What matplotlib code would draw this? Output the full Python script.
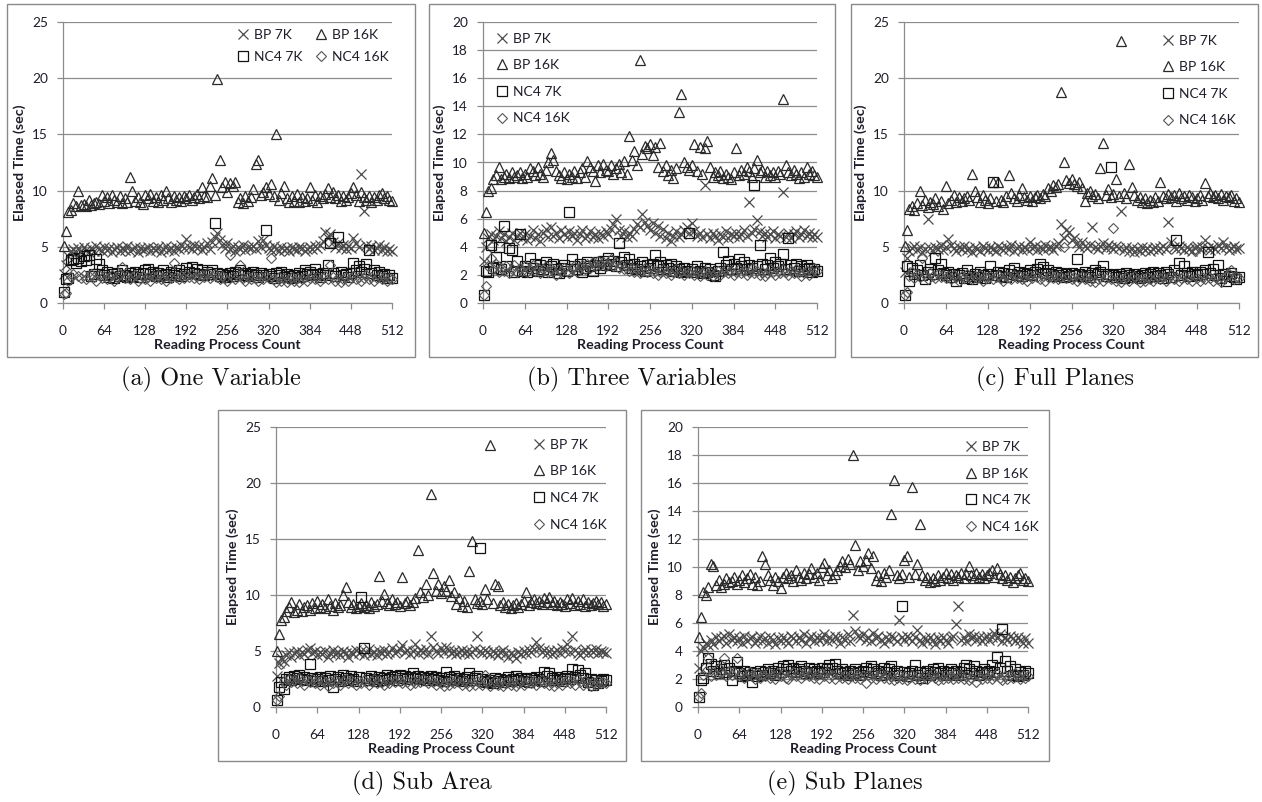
import matplotlib
matplotlib.use('Agg')
import matplotlib.pyplot as plt
from matplotlib.patches import Rectangle

# ---------------- data ----------------
proc_counts = [1, 4, 8, 12, 16, 20, 24, 28, 32, 36, 40, 44, 48, 52, 56, 60,
               64, 68, 72, 76, 80, 84, 88, 92, 96, 100, 104, 108, 112, 116, 120, 124,
               128, 132, 136, 140, 144, 148, 152, 156, 160, 164, 168, 172, 176, 180, 184, 188,
               192, 196, 200, 204, 208, 212, 216, 220, 224, 228, 232, 236, 240, 244, 248, 252,
               256, 260, 264, 268, 272, 276, 280, 284, 288, 292, 296, 300, 304, 308, 312, 316,
               320, 324, 328, 332, 336, 340, 344, 348, 352, 356, 360, 364, 368, 372, 376, 380,
               384, 388, 392, 396, 400, 404, 408, 412, 416, 420, 424, 428, 432, 436, 440, 444,
               448, 452, 456, 460, 464, 468, 472, 476, 480, 484, 488, 492, 496, 500, 504, 508,
               512]

series_labels = ["BP 7K", "BP 16K", "NC4 7K", "NC4 16K"]
x_ticks = [0, 64, 128, 192, 256, 320, 384, 448, 512]

# (a) One Variable
a_bp7k = [2.6, 3.4, 4.2, 4.6, 4.8, 4.5, 4.9, 4.6, 5.0, 4.7, 4.5, 4.9, 4.6, 5.1, 4.8, 4.6,
          5.0, 4.7, 4.9, 4.5, 4.8, 5.0, 4.6, 4.9, 4.7, 5.1, 4.6, 4.8, 5.0, 4.5, 4.9, 4.7,
          4.8, 5.0, 4.6, 4.9, 4.7, 5.0, 4.5, 4.8, 5.1, 4.7, 4.9, 4.6, 5.0, 4.8, 5.2, 4.9,
          5.7, 5.0, 4.8, 5.2, 4.9, 5.1, 4.7, 5.0, 5.3, 4.8, 5.4, 5.9, 6.2, 5.6, 5.2, 4.9,
          5.3, 4.8, 5.1, 4.6, 5.0, 4.8, 5.2, 4.7, 5.0, 4.9, 5.1, 4.8, 5.5, 5.0, 5.6, 5.2,
          4.9, 4.7, 5.1, 4.8, 4.6, 5.0, 4.7, 4.9, 4.6, 5.0, 4.8, 4.7, 5.0, 4.9, 4.6, 4.8,
          5.0, 4.8, 5.1, 4.9, 5.2, 5.5, 6.3, 5.8, 6.1, 5.4, 5.0, 5.3, 4.9, 5.2, 4.8, 5.1,
          4.9, 5.8, 5.3, 5.0, 11.5, 8.2, 5.2, 4.8, 5.1, 4.7, 4.9, 5.2, 4.7, 5.0, 4.6, 4.8,
          4.6]
a_bp16k = [5.1, 6.4, 8.1, 8.3, 8.9, 8.6, 10.0, 8.7, 8.8, 8.6, 9.2, 8.7, 8.9, 9.0, 8.8, 9.6,
           9.1, 9.4, 8.9, 9.6, 9.2, 9.0, 9.5, 8.9, 9.3, 9.0, 11.2, 10.0, 9.1, 9.4, 9.0, 8.8,
           9.6, 9.3, 9.7, 9.1, 9.4, 9.0, 9.6, 9.2, 10.0, 9.3, 9.0, 9.5, 9.2, 9.4, 9.1, 9.5,
           9.3, 9.6, 9.2, 9.4, 9.7, 9.3, 10.3, 9.5, 9.4, 10.4, 11.1, 9.6, 19.9, 12.7, 10.3, 10.8,
           9.9, 10.7, 10.4, 10.8, 9.0, 9.3, 8.9, 9.5, 9.1, 9.4, 10.1, 12.4, 12.7, 9.6, 9.9, 10.3,
           9.7, 10.6, 9.5, 15.0, 9.2, 9.8, 10.4, 9.3, 9.0, 9.5, 9.1, 9.7, 9.0, 9.4, 9.1, 9.3,
           10.3, 9.2, 9.6, 9.0, 9.5, 9.3, 9.7, 10.2, 9.4, 9.9, 9.3, 9.6, 9.1, 9.5, 9.2, 9.4,
           9.8, 10.3, 9.6, 9.1, 9.9, 9.4, 9.2, 9.5, 9.0, 9.4, 9.2, 9.6, 9.8, 9.3, 9.5, 9.2,
           9.1]
a_nc7k = [1.0, 2.1, 2.2, 3.8, 3.9, 3.6, 4.0, 3.7, 4.2, 3.8, 4.3, 2.4, 2.6, 3.9, 3.5, 2.9,
          2.5, 2.8, 2.3, 2.6, 2.2, 2.7, 2.4, 2.9, 2.5, 2.3, 2.7, 2.4, 2.8, 2.6, 2.3, 2.7,
          2.9, 3.0, 2.6, 2.8, 2.4, 2.7, 2.5, 2.9, 2.6, 2.3, 2.8, 2.5, 2.7, 2.9, 2.4, 2.6,
          3.1, 2.8, 3.2, 2.7, 3.0, 2.6, 2.9, 2.5, 2.8, 2.6, 2.9, 7.1, 2.7, 2.4, 2.6, 2.3,
          2.5, 2.7, 2.4, 2.8, 2.6, 2.9, 2.5, 2.7, 2.4, 2.6, 2.8, 2.5, 2.3, 2.7, 2.5, 6.5,
          2.6, 2.4, 2.2, 2.7, 2.5, 2.8, 2.3, 2.6, 2.4, 2.2, 2.5, 2.3, 2.7, 2.4, 2.9, 2.6,
          2.8, 2.5, 3.0, 2.6, 2.3, 2.7, 2.5, 3.4, 5.3, 2.7, 2.4, 5.9, 2.8, 2.5, 2.6, 2.3,
          2.7, 3.6, 2.9, 3.3, 2.8, 3.0, 3.5, 4.7, 2.7, 2.9, 2.5, 2.8, 2.4, 2.6, 2.2, 2.5,
          2.2]
a_nc16k = [0.8, 0.9, 2.0, 2.3, 2.6, 4.5, 2.4, 2.2, 2.5, 2.1, 2.4, 2.6, 2.3, 2.0, 2.5, 2.2,
           2.4, 2.1, 2.3, 2.5, 2.0, 2.3, 2.6, 3.2, 2.2, 2.4, 2.1, 2.3, 2.5, 2.0, 2.2, 2.4,
           2.1, 2.3, 2.0, 2.4, 2.2, 2.5, 2.1, 2.3, 2.0, 2.4, 2.2, 3.6, 2.3, 2.1, 2.4, 2.2,
           2.5, 2.3, 2.6, 2.2, 2.4, 2.1, 2.5, 2.3, 2.7, 2.2, 2.4, 2.6, 2.3, 2.1, 2.4, 2.2,
           2.0, 4.3, 2.3, 2.1, 2.4, 3.4, 2.2, 2.0, 2.3, 2.1, 2.4, 2.2, 2.0, 2.3, 2.1, 2.4,
           2.2, 4.0, 2.1, 1.9, 2.3, 2.0, 2.2, 1.9, 2.1, 2.3, 2.0, 2.2, 1.9, 2.1, 2.3, 2.0,
           2.2, 2.4, 2.1, 2.3, 2.0, 2.2, 2.4, 2.1, 3.4, 2.3, 2.0, 2.2, 1.9, 2.1, 2.3, 2.0,
           2.2, 2.4, 2.1, 2.3, 2.0, 2.2, 2.5, 2.1, 2.3, 2.0, 2.2, 2.4, 2.1, 2.3, 2.0, 2.2,
           2.1]

# (b) Three Variables
b_bp7k = [3.0, 4.0, 4.6, 4.9, 4.5, 4.8, 5.1, 4.6, 4.9, 4.4, 4.7, 5.0, 4.5, 4.8, 5.0, 4.6,
          4.9, 4.5, 4.8, 5.2, 4.6, 4.9, 4.4, 5.0, 5.3, 4.7, 5.4, 4.8, 5.0, 4.6, 5.2, 4.9,
          4.7, 5.1, 4.8, 5.0, 4.5, 4.9, 5.2, 4.6, 4.8, 5.1, 4.7, 4.9, 4.6, 5.0, 4.8, 5.1,
          4.9, 5.3, 5.6, 6.0, 5.2, 4.8, 5.1, 4.7, 5.0, 4.8, 5.3, 5.6, 5.4, 6.3, 5.8, 5.5,
          5.2, 5.7, 5.0, 5.5, 4.8, 5.3, 4.6, 5.0, 4.4, 4.8, 5.1, 4.7, 4.9, 5.2, 5.4, 5.0,
          5.7, 5.1, 4.8, 5.0, 4.7, 8.4, 4.9, 4.6, 5.0, 4.8, 4.5, 4.9, 4.7, 5.1, 4.6, 4.9,
          4.8, 5.0, 4.7, 4.9, 5.2, 4.8, 7.2, 5.0, 5.3, 5.9, 5.1, 4.8, 5.0, 4.7, 4.9, 5.1,
          4.6, 4.9, 4.8, 7.9, 4.7, 5.0, 4.6, 4.9, 5.1, 4.7, 4.9, 5.2, 4.8, 5.0, 4.7, 4.9,
          4.7]
b_bp16k = [5.0, 6.5, 8.0, 8.2, 8.8, 9.1, 9.7, 8.8, 9.0, 9.2, 8.9, 9.3, 9.0, 9.1, 9.3, 8.9,
           9.2, 9.0, 9.6, 9.4, 9.1, 9.7, 9.2, 9.0, 9.5, 10.0, 10.7, 10.2, 9.4, 9.1, 8.9, 9.3,
           8.8, 9.2, 9.0, 9.4, 8.9, 9.3, 9.6, 9.0, 10.1, 9.7, 9.4, 8.7, 9.8, 9.3, 9.9, 9.5,
           9.4, 9.8, 9.2, 9.6, 9.9, 9.3, 10.1, 9.2, 11.9, 10.2, 10.8, 9.8, 17.3, 10.6, 11.2, 11.0,
           11.3, 10.5, 11.1, 9.7, 11.4, 9.4, 9.8, 9.1, 9.5, 8.9, 9.6, 13.6, 14.9, 10.0, 9.7, 9.5,
           9.8, 11.3, 9.4, 11.1, 9.2, 11.0, 11.5, 9.7, 9.0, 9.3, 9.1, 9.4, 8.9, 9.2, 9.0, 8.8,
           9.3, 11.0, 9.1, 9.5, 9.2, 9.7, 9.4, 9.0, 9.6, 10.2, 9.3, 9.5, 9.0, 9.4, 9.1, 9.3,
           9.0, 9.4, 9.2, 14.5, 9.8, 9.3, 9.1, 9.5, 9.2, 8.9, 9.3, 9.0, 9.7, 9.2, 9.4, 9.1,
           9.0]
b_nc7k = [0.6, 2.3, 2.2, 4.1, 2.5, 3.3, 4.0, 2.4, 5.5, 2.6, 3.9, 3.8, 2.2, 3.0, 4.9, 2.3,
          2.6, 2.2, 3.2, 2.5, 2.8, 2.3, 2.7, 2.4, 2.9, 2.2, 2.6, 2.8, 2.4, 2.1, 2.5, 2.7,
          2.3, 6.5, 3.1, 2.6, 2.4, 2.8, 2.2, 2.5, 2.9, 2.6, 2.3, 2.7, 2.9, 2.5, 3.0, 2.7,
          3.2, 2.8, 3.0, 2.6, 4.3, 2.9, 3.3, 2.7, 3.1, 2.5, 2.8, 2.4, 2.6, 2.9, 2.3, 2.7,
          2.5, 2.8, 3.4, 2.6, 2.9, 2.4, 2.7, 2.5, 2.8, 2.3, 2.6, 2.4, 2.2, 2.5, 2.3, 5.0,
          2.4, 2.2, 2.6, 2.3, 2.1, 2.5, 2.2, 2.4, 2.0, 1.9, 2.3, 2.5, 3.6, 2.7, 3.0, 2.4,
          2.8, 2.5, 3.1, 2.6, 2.9, 2.4, 2.7, 2.5, 8.4, 2.6, 4.1, 2.8, 2.4, 2.7, 3.2, 2.5,
          2.9, 2.6, 2.8, 3.5, 2.4, 4.6, 2.7, 2.5, 2.8, 2.3, 2.6, 2.4, 2.7, 2.5, 2.2, 2.4,
          2.3]
b_nc16k = [0.6, 1.2, 2.6, 3.2, 2.4, 2.8, 2.2, 2.5, 2.3, 2.6, 2.1, 2.4, 2.7, 2.2, 2.5, 2.3,
           2.6, 2.2, 2.4, 2.7, 2.3, 2.5, 2.1, 2.4, 2.6, 2.2, 2.5, 2.3, 2.0, 2.4, 2.2, 2.5,
           2.3, 2.1, 2.4, 2.6, 2.2, 2.5, 2.7, 2.4, 2.8, 2.5, 2.9, 2.6, 3.0, 2.7, 2.9, 2.6,
           2.8, 3.1, 2.6, 2.9, 2.5, 2.7, 2.4, 2.6, 2.3, 2.5, 2.2, 2.4, 2.1, 2.3, 2.5, 2.2,
           2.4, 2.1, 2.3, 2.0, 2.2, 2.4, 2.1, 2.3, 2.0, 2.2, 2.4, 2.1, 2.3, 2.0, 2.2, 2.1,
           2.3, 2.0, 2.2, 1.9, 2.1, 2.3, 2.0, 2.2, 1.9, 2.1, 2.3, 2.0, 2.2, 2.4, 2.1, 2.3,
           2.0, 2.2, 2.4, 2.1, 2.3, 2.0, 2.2, 2.5, 2.1, 2.3, 2.0, 2.2, 1.9, 2.1, 2.4, 2.2,
           2.0, 2.3, 2.1, 2.4, 2.2, 2.0, 2.3, 2.1, 2.4, 2.2, 1.9, 2.1, 2.3, 2.0, 2.2, 2.5,
           2.3]

# (c) Full Planes
c_bp7k = [2.8, 4.0, 4.6, 4.9, 5.1, 4.7, 5.0, 4.5, 4.8, 7.5, 4.9, 4.6, 5.0, 4.8, 5.2, 4.7,
          5.0, 5.7, 5.2, 4.9, 4.6, 5.0, 4.8, 5.1, 4.7, 4.9, 4.5, 5.0, 4.8, 4.6, 5.1, 4.9,
          4.7, 5.0, 4.8, 4.6, 5.1, 4.9, 4.7, 5.0, 4.8, 5.2, 4.6, 4.9, 5.1, 4.7, 5.0, 4.8,
          5.4, 4.9, 5.1, 4.7, 5.0, 4.8, 5.2, 4.9, 5.0, 4.7, 5.1, 5.3, 7.0, 5.8, 6.5, 6.3,
          5.6, 5.8, 5.3, 5.0, 5.4, 5.1, 4.9, 5.2, 6.8, 5.0, 4.8, 5.1, 5.3, 4.9, 5.2, 5.0,
          4.8, 5.1, 4.9, 8.2, 4.7, 5.0, 4.6, 4.9, 4.5, 4.8, 4.6, 5.0, 4.7, 4.9, 4.6, 4.8,
          5.0, 4.7, 4.9, 5.1, 4.8, 7.2, 5.4, 5.0, 4.8, 5.1, 4.9, 4.7, 5.0, 4.8, 4.6, 4.9,
          5.1, 4.8, 5.0, 5.6, 4.9, 4.7, 5.0, 4.8, 5.2, 4.9, 5.4, 5.0, 4.7, 4.9, 5.1, 4.8,
          4.9]
c_bp16k = [5.1, 6.5, 8.4, 8.6, 8.3, 8.9, 10.0, 8.7, 9.2, 8.5, 9.0, 8.8, 9.3, 8.6, 9.1, 8.4,
           10.4, 8.9, 9.2, 9.6, 9.0, 9.4, 9.1, 9.3, 9.5, 9.2, 11.5, 10.0, 9.4, 9.0, 9.6, 9.2,
           8.9, 9.3, 10.8, 9.1, 10.8, 9.2, 9.0, 9.5, 11.4, 9.8, 9.3, 9.1, 9.6, 10.2, 9.4, 9.2,
           9.5, 9.1, 9.4, 9.6, 9.3, 9.7, 9.5, 10.2, 10.0, 10.5, 10.3, 10.6, 18.8, 12.5, 10.9, 10.7,
           11.0, 10.6, 10.4, 10.8, 10.2, 9.1, 9.8, 10.0, 9.5, 9.7, 9.3, 12.0, 14.2, 9.6, 10.1, 9.4,
           9.7, 11.0, 9.5, 23.3, 9.8, 9.3, 12.4, 10.3, 9.6, 9.2, 9.4, 9.0, 9.3, 8.9, 9.2, 9.0,
           9.4, 9.1, 10.8, 9.5, 9.3, 9.7, 9.4, 9.6, 9.1, 9.8, 9.3, 9.5, 9.2, 9.6, 9.4, 9.1,
           9.3, 9.6, 9.2, 10.7, 9.5, 9.8, 9.4, 9.6, 9.3, 9.7, 9.2, 9.5, 9.4, 9.6, 9.1, 9.3,
           9.0]
c_nc7k = [0.7, 3.3, 2.0, 3.1, 2.6, 2.9, 3.4, 2.5, 2.1, 2.8, 3.0, 2.6, 4.0, 2.9, 3.5, 2.7,
          2.5, 2.8, 2.3, 2.6, 2.0, 2.5, 2.7, 2.2, 2.9, 2.4, 2.1, 2.6, 2.3, 2.8, 2.5, 2.2,
          2.6, 3.3, 10.8, 2.5, 2.8, 2.4, 2.7, 2.3, 2.9, 2.6, 3.1, 2.5, 2.8, 2.4, 2.7, 2.6,
          2.9, 2.5, 2.8, 3.0, 3.5, 3.2, 2.7, 2.9, 2.6, 2.4, 2.8, 2.5, 2.7, 2.3, 2.6, 2.4,
          2.7, 2.5, 3.9, 2.6, 2.4, 2.8, 2.5, 2.3, 2.7, 2.9, 2.6, 2.8, 3.3, 2.4, 2.6, 12.1,
          2.5, 2.3, 2.6, 2.4, 2.2, 2.7, 2.5, 2.3, 2.6, 2.4, 2.2, 2.5, 2.7, 2.3, 2.6, 2.8,
          2.4, 2.7, 2.5, 2.2, 2.8, 2.6, 2.3, 2.9, 5.6, 3.6, 2.5, 3.3, 2.7, 2.4, 2.8, 2.6,
          2.5, 2.8, 2.6, 2.9, 4.5, 2.7, 3.0, 2.5, 3.4, 2.2, 2.6, 2.0, 2.4, 2.7, 2.3, 2.1,
          2.3]
c_nc16k = [0.7, 1.0, 2.4, 2.8, 2.2, 2.6, 2.3, 4.0, 2.5, 2.1, 2.7, 2.4, 2.2, 2.6, 2.3, 2.5,
           2.2, 2.4, 2.1, 2.5, 2.3, 2.0, 2.4, 2.2, 2.6, 2.3, 2.1, 2.4, 2.2, 2.5, 2.0, 2.3,
           2.2, 2.4, 2.1, 2.3, 2.5, 2.2, 2.0, 2.4, 2.3, 2.1, 2.5, 2.2, 2.4, 2.1, 2.3, 2.0,
           2.4, 2.2, 2.5, 2.3, 2.1, 2.4, 2.0, 2.3, 2.5, 2.2, 2.4, 2.1, 2.3, 5.0, 2.2, 2.4,
           2.1, 2.3, 2.0, 2.2, 2.4, 2.1, 2.3, 2.0, 2.2, 1.9, 2.1, 2.3, 2.0, 2.2, 2.4, 2.1,
           6.7, 2.0, 2.2, 1.9, 2.1, 2.3, 2.0, 2.2, 2.4, 2.1, 1.9, 2.2, 2.0, 2.3, 2.1, 2.0,
           2.2, 2.4, 2.1, 2.3, 2.0, 2.2, 2.5, 2.1, 2.3, 2.0, 2.2, 2.4, 2.1, 2.3, 2.0, 4.6,
           2.2, 2.0, 2.3, 2.1, 2.4, 2.2, 2.0, 2.3, 2.1, 1.9, 2.2, 2.4, 2.6, 2.9, 2.1, 2.3,
           2.2]

# (d) Sub Area
d_bp7k = [2.8, 3.9, 4.4, 4.1, 4.6, 4.9, 4.5, 4.8, 5.0, 4.6, 4.9, 4.7, 5.1, 5.3, 4.8, 5.0,
          4.6, 4.9, 4.7, 5.0, 4.5, 4.8, 5.1, 4.7, 4.9, 4.6, 5.0, 4.8, 4.5, 4.9, 4.7, 5.1,
          4.8, 5.0, 4.6, 4.9, 5.2, 4.7, 4.9, 4.6, 5.0, 4.8, 5.1, 4.7, 4.9, 5.3, 4.8, 5.0,
          5.2, 5.5, 4.9, 5.1, 4.7, 5.0, 5.6, 4.8, 5.1, 4.9, 5.2, 4.7, 6.3, 5.4, 5.0, 4.8,
          5.3, 4.9, 5.4, 5.1, 4.8, 5.0, 4.7, 4.9, 5.1, 4.8, 5.0, 4.7, 4.9, 5.2, 6.3, 5.0,
          4.8, 5.1, 4.9, 4.7, 5.0, 4.8, 4.6, 4.9, 5.1, 4.7, 4.5, 4.8, 4.6, 4.4, 4.9, 4.7,
          5.0, 4.8, 5.1, 4.9, 5.2, 5.8, 5.3, 4.9, 5.1, 4.8, 5.0, 4.7, 4.9, 5.1, 4.8, 5.3,
          5.0, 5.6, 4.9, 6.3, 5.1, 4.8, 4.6, 4.9, 5.2, 4.8, 5.1, 4.9, 5.2, 4.8, 5.0, 4.9,
          4.8]
d_bp16k = [5.0, 6.5, 7.8, 8.0, 8.6, 8.9, 9.4, 8.5, 8.7, 9.2, 8.6, 8.9, 9.1, 8.7, 9.3, 8.8,
           9.5, 8.9, 9.2, 8.8, 9.6, 9.0, 8.7, 9.3, 8.9, 9.1, 10.0, 10.7, 9.4, 8.9, 9.2, 8.8,
           9.0, 9.3, 8.9, 9.1, 8.8, 9.4, 9.0, 9.2, 11.7, 9.5, 10.1, 9.3, 9.1, 9.6, 9.2, 9.4,
           9.0, 11.6, 9.3, 9.5, 9.1, 9.4, 9.7, 14.0, 10.3, 9.8, 11.0, 10.0, 19.0, 12.0, 10.4, 11.0,
           10.2, 10.8, 10.4, 11.3, 9.9, 10.3, 9.2, 9.7, 9.0, 9.5, 8.9, 12.1, 14.8, 9.6, 9.3, 9.5,
           9.2, 10.5, 9.6, 23.4, 9.3, 11.0, 10.8, 9.1, 9.4, 8.9, 9.2, 8.8, 9.1, 9.3, 8.9, 9.2,
           9.5, 10.3, 9.1, 9.4, 9.6, 9.3, 9.5, 9.2, 9.7, 9.4, 9.8, 9.2, 9.5, 9.1, 9.4, 9.2,
           9.0, 9.6, 9.3, 9.7, 9.1, 9.5, 9.2, 9.6, 9.0, 9.4, 9.1, 9.3, 9.5, 9.2, 9.4, 9.0,
           9.2]
d_nc7k = [0.6, 1.8, 2.2, 1.6, 2.5, 2.7, 2.4, 2.8, 2.6, 2.9, 2.5, 2.7, 2.4, 3.8, 2.6, 2.3,
          2.5, 2.7, 2.3, 2.6, 2.4, 2.8, 1.8, 2.5, 2.7, 2.3, 2.9, 2.6, 2.4, 2.8, 2.5, 2.3,
          2.7, 9.8, 5.3, 2.6, 2.4, 2.8, 2.5, 2.3, 2.7, 2.4, 2.6, 2.9, 2.5, 2.7, 2.8, 2.4,
          2.9, 2.6, 2.8, 2.5, 2.7, 3.0, 2.6, 2.8, 2.5, 2.7, 2.4, 2.6, 2.8, 2.5, 2.7, 2.4,
          2.6, 2.3, 3.1, 2.7, 2.5, 2.8, 2.4, 2.6, 2.3, 2.5, 2.7, 3.0, 2.4, 2.6, 2.8, 14.2,
          2.5, 2.3, 2.2, 2.4, 2.1, 2.6, 2.3, 2.5, 2.2, 2.4, 2.7, 2.3, 2.5, 2.8, 2.4, 2.6,
          2.3, 2.5, 2.2, 2.6, 2.4, 2.7, 2.5, 2.3, 3.1, 2.8, 3.0, 2.6, 2.4, 2.7, 2.5, 2.3,
          2.6, 2.8, 2.5, 3.4, 2.7, 3.3, 2.9, 2.6, 3.0, 2.2, 2.5, 2.0, 2.4, 2.1, 2.3, 2.5,
          2.4]
d_nc16k = [0.6, 1.0, 3.8, 2.3, 2.0, 2.5, 2.2, 2.4, 2.1, 2.6, 2.3, 2.0, 2.4, 2.2, 2.5, 2.1,
           2.3, 2.0, 2.4, 2.2, 1.9, 2.3, 2.1, 2.4, 2.2, 2.0, 2.3, 2.5, 2.1, 2.4, 2.2, 2.0,
           2.3, 2.1, 2.4, 2.2, 2.0, 2.3, 2.5, 2.1, 2.4, 2.2, 2.0, 2.3, 2.1, 2.4, 2.2, 2.5,
           2.3, 2.1, 2.4, 2.2, 2.0, 2.3, 2.1, 2.4, 2.2, 2.5, 2.3, 2.1, 2.4, 2.2, 2.0, 2.3,
           2.1, 1.9, 2.2, 2.0, 2.3, 2.1, 2.4, 2.2, 2.0, 2.3, 2.1, 1.9, 2.2, 2.0, 2.3, 2.1,
           2.0, 2.9, 2.2, 1.9, 2.1, 2.3, 2.0, 2.2, 1.9, 2.1, 2.3, 2.0, 2.2, 1.9, 2.1, 2.3,
           2.0, 2.2, 2.4, 2.1, 2.3, 2.0, 2.2, 2.4, 2.1, 2.3, 2.0, 2.2, 1.9, 2.1, 2.3, 2.0,
           2.2, 2.4, 2.1, 2.3, 2.0, 2.5, 2.2, 2.0, 2.3, 2.1, 1.9, 2.2, 2.0, 2.3, 2.1, 2.2,
           2.1]

# (e) Sub Planes
e_bp7k = [2.8, 4.0, 4.3, 4.6, 4.4, 4.8, 4.5, 5.0, 4.7, 4.9, 5.1, 4.6, 5.2, 4.8, 5.0, 4.7,
          4.9, 4.6, 5.1, 4.7, 4.9, 5.0, 4.6, 4.8, 5.1, 4.7, 4.9, 4.6, 5.0, 4.8, 4.5, 4.9,
          4.7, 5.0, 4.8, 4.6, 5.1, 4.9, 4.7, 5.0, 4.8, 5.2, 4.6, 4.9, 5.1, 4.7, 5.0, 4.8,
          4.9, 5.2, 4.7, 5.0, 4.8, 5.1, 4.9, 4.6, 5.0, 4.8, 5.2, 4.7, 6.6, 5.4, 5.1, 4.9,
          5.2, 4.8, 5.0, 4.7, 5.3, 4.9, 5.1, 4.8, 4.6, 5.0, 4.8, 5.1, 4.9, 4.7, 6.2, 5.0,
          4.8, 5.1, 4.9, 4.7, 5.0, 5.5, 4.8, 4.6, 4.9, 4.7, 5.0, 4.8, 4.5, 4.9, 4.7, 5.0,
          4.8, 4.6, 4.9, 5.1, 5.9, 7.2, 4.8, 5.0, 4.7, 5.2, 4.9, 5.1, 4.8, 5.0, 4.7, 4.9,
          5.1, 4.8, 5.0, 5.3, 4.9, 5.2, 4.7, 5.0, 4.8, 5.1, 4.9, 4.7, 5.0, 4.8, 4.6, 4.9,
          4.6]
e_bp16k = [5.0, 6.4, 8.2, 8.0, 8.6, 10.2, 10.1, 8.7, 9.1, 8.6, 8.8, 9.2, 8.9, 9.0, 9.3, 8.8,
           9.1, 9.4, 8.9, 9.2, 9.5, 8.8, 9.3, 8.7, 9.0, 10.8, 10.2, 9.4, 9.1, 8.7, 9.3, 9.0,
           8.5, 9.3, 9.6, 9.2, 9.4, 9.0, 9.8, 9.3, 9.1, 9.6, 9.2, 9.5, 9.9, 9.3, 9.6, 9.1,
           10.0, 10.3, 9.4, 9.8, 9.2, 9.5, 9.8, 10.1, 10.4, 10.0, 10.6, 10.2, 18.0, 11.6, 9.8, 10.4,
           10.1, 10.5, 11.0, 9.9, 10.8, 9.1, 9.4, 9.0, 9.6, 9.3, 9.8, 13.8, 16.2, 9.4, 9.2, 9.5,
           10.5, 10.8, 9.3, 15.7, 9.5, 10.2, 13.1, 9.4, 9.1, 9.3, 8.9, 9.2, 9.0, 9.4, 9.1, 9.3,
           9.6, 9.2, 9.5, 9.1, 9.4, 9.3, 9.6, 9.2, 9.5, 10.1, 9.4, 9.2, 9.6, 9.3, 9.5, 9.2,
           9.4, 9.6, 9.8, 9.3, 9.9, 9.5, 9.2, 9.4, 9.1, 9.3, 8.9, 9.2, 9.4, 9.6, 9.1, 9.2,
           9.0]
e_nc7k = [0.7, 1.9, 2.1, 2.8, 3.5, 3.1, 2.6, 2.9, 2.4, 2.7, 3.0, 2.5, 2.8, 1.9, 2.6, 3.2,
          2.4, 2.2, 2.6, 2.3, 2.5, 1.8, 2.4, 2.2, 2.6, 2.3, 2.5, 2.7, 2.4, 2.6, 2.3, 2.8,
          2.5, 2.9, 2.7, 3.0, 2.6, 2.8, 2.5, 2.7, 2.9, 2.6, 2.4, 2.8, 2.5, 2.7, 2.6, 2.4,
          2.8, 2.5, 2.7, 3.0, 2.8, 3.1, 2.6, 2.4, 2.7, 2.5, 2.3, 2.6, 2.4, 2.7, 2.5, 2.3,
          2.6, 2.8, 2.5, 2.9, 2.7, 2.4, 2.6, 2.3, 2.8, 2.5, 2.7, 2.9, 2.4, 2.6, 2.3, 7.2,
          2.5, 2.2, 2.4, 2.6, 3.0, 2.3, 2.5, 2.1, 2.4, 2.6, 2.3, 2.7, 2.5, 2.8, 2.4, 2.6,
          2.3, 2.5, 2.7, 2.4, 2.6, 2.3, 2.5, 2.8, 3.0, 2.7, 2.4, 2.9, 2.6, 2.3, 2.5, 2.7,
          2.4, 2.6, 3.0, 2.5, 3.6, 2.8, 5.6, 3.3, 2.6, 2.9, 2.3, 2.7, 2.2, 2.5, 2.3, 2.6,
          2.4]
e_nc16k = [0.7, 1.0, 2.3, 2.6, 3.5, 2.2, 2.5, 2.3, 2.8, 2.4, 3.5, 2.2, 2.6, 2.3, 2.5, 3.5,
           2.2, 2.4, 2.1, 2.3, 2.5, 2.2, 2.0, 2.4, 2.1, 2.3, 2.2, 2.5, 2.1, 2.3, 2.0, 2.4,
           2.2, 2.4, 2.1, 2.0, 2.3, 2.5, 2.2, 2.4, 2.1, 2.3, 2.6, 2.2, 2.4, 2.1, 2.3, 2.0,
           2.4, 2.2, 2.5, 2.1, 2.3, 2.0, 2.4, 2.2, 2.1, 2.3, 2.0, 2.2, 2.4, 2.1, 2.3, 2.0,
           2.2, 1.7, 2.3, 2.1, 2.4, 2.0, 2.2, 2.4, 2.1, 2.3, 2.0, 2.2, 1.9, 2.1, 2.3, 2.0,
           2.2, 1.9, 2.1, 2.3, 2.0, 2.2, 1.9, 2.1, 2.3, 2.0, 2.2, 2.4, 2.1, 1.9, 2.2, 2.0,
           2.3, 2.1, 2.2, 2.0, 2.4, 2.1, 2.3, 2.0, 2.2, 1.9, 2.1, 2.3, 1.8, 2.2, 2.0, 2.4,
           2.1, 2.3, 2.0, 2.2, 2.4, 2.1, 1.9, 2.2, 2.0, 2.3, 2.1, 2.4, 2.2, 2.0, 2.3, 2.1,
           2.2]

captions = ["(a) One Variable", "(b) Three Variables", "(c) Full Planes",
            "(d) Sub Area", "(e) Sub Planes"]

# ---------------- layout / style ----------------
W, H = 1262, 802
fig = plt.figure(figsize=(W / 100, H / 100), dpi=100)
fig.patch.set_facecolor('white')

TICK_FONT = 'Lato'
GRID_C = '#8c8c8c'
TXT_C = '#1e1e2a'
TICK_FS = 9.8
LABEL_FS = 10.3
LEG_FS = 10.0

marker_styles = [
    dict(marker='x', ms=7.2, mew=0.9, mec='#4a4a4a', mfc='none'),
    dict(marker='^', ms=7.8, mew=0.9, mec='#2a2a2a', mfc='none'),
    dict(marker='s', ms=7.2, mew=0.9, mec='#111111', mfc='none'),
    dict(marker='D', ms=4.8, mew=0.8, mec='#555555', mfc='none'),
]

panels = [
    dict(series=[a_bp7k, a_bp16k, a_nc7k, a_nc16k], cap=captions[0],
         ax_px=(63, 22, 392, 303), frame_px=(7, 4, 415, 357), ymax=25, ystep=5,
         ncol=2, leg_anchor=(0.526, 0.975), cap_y=379),
    dict(series=[b_bp7k, b_bp16k, b_nc7k, b_nc16k], cap=captions[1],
         ax_px=(483, 22, 817, 303), frame_px=(429, 4, 835, 357), ymax=20, ystep=2,
         ncol=1, leg_anchor=(0.035, 0.962), cap_y=379),
    dict(series=[c_bp7k, c_bp16k, c_nc7k, c_nc16k], cap=captions[2],
         ax_px=(904, 22, 1239, 303), frame_px=(851, 4, 1258, 357), ymax=25, ystep=5,
         ncol=1, leg_anchor=(0.767, 0.955), cap_y=379),
    dict(series=[d_bp7k, d_bp16k, d_nc7k, d_nc16k], cap=captions[3],
         ax_px=(276, 427, 606, 707), frame_px=(218, 410, 626, 761), ymax=25, ystep=5,
         ncol=1, leg_anchor=(0.775, 0.958), cap_y=783),
    dict(series=[e_bp7k, e_bp16k, e_nc7k, e_nc16k], cap=captions[4],
         ax_px=(698, 427, 1028, 707), frame_px=(641, 410, 1049, 761), ymax=20, ystep=2,
         ncol=1, leg_anchor=(0.805, 0.950), cap_y=783),
]

for p in panels:
    l, t, r, b = p['ax_px']
    ax = fig.add_axes([l / W, 1 - b / H, (r - l) / W, (b - t) / H])
    handles = []
    for vals, lab, st in zip(p['series'], series_labels, marker_styles):
        n = min(len(proc_counts), len(vals))
        h, = ax.plot(proc_counts[:n], vals[:n], linestyle='none', label=lab,
                     clip_on=False, zorder=3, **st)
        handles.append(h)
    ax.set_xlim(0, 512)
    ax.set_ylim(0, p['ymax'])
    ax.set_xticks(x_ticks)
    yt = list(range(0, p['ymax'] + 1, p['ystep']))
    ax.set_yticks(yt)
    ax.set_xticklabels([str(v) for v in x_ticks], fontfamily=TICK_FONT, fontsize=TICK_FS, color=TXT_C)
    ax.set_yticklabels([str(v) for v in yt], fontfamily=TICK_FONT, fontsize=TICK_FS, color=TXT_C)
    ax.yaxis.grid(True, color=GRID_C, linewidth=0.9)
    ax.set_axisbelow(True)
    for s in ['top', 'right']:
        ax.spines[s].set_visible(False)
    for s in ['left', 'bottom']:
        ax.spines[s].set_color(GRID_C)
        ax.spines[s].set_linewidth(0.9)
    ax.tick_params(axis='both', direction='out', length=4, width=0.9, color=GRID_C)
    ax.tick_params(axis='x', pad=12)
    ax.tick_params(axis='y', pad=7)
    ax.set_xlabel('Reading Process Count', fontfamily=TICK_FONT, fontweight='bold',
                  fontsize=LABEL_FS, color=TXT_C, labelpad=1.5)
    ax.set_ylabel('Elapsed Time (sec)', fontfamily=TICK_FONT, fontweight='bold',
                  fontsize=LABEL_FS, color=TXT_C, labelpad=4)
    ax.set_facecolor('none')

    if p['ncol'] == 2:
        hs = [handles[0], handles[2], handles[1], handles[3]]
        leg = ax.legend(hs, [h.get_label() for h in hs], ncol=2, loc='upper left',
                        bbox_to_anchor=p['leg_anchor'], frameon=False,
                        prop=dict(family=TICK_FONT, size=LEG_FS), handlelength=1.0,
                        handletextpad=0.3, labelspacing=0.7, columnspacing=0.8,
                        borderpad=0, borderaxespad=0)
    else:
        leg = ax.legend(handles, [h.get_label() for h in handles], ncol=1, loc='upper left',
                        bbox_to_anchor=p['leg_anchor'], frameon=False,
                        prop=dict(family=TICK_FONT, size=LEG_FS), handlelength=1.0,
                        handletextpad=0.3, labelspacing=1.05,
                        borderpad=0, borderaxespad=0)
    for txt in leg.get_texts():
        txt.set_color(TXT_C)

    x0, y0, x1, y1 = p['frame_px']
    fig.add_artist(Rectangle((x0 / W, 1 - y1 / H), (x1 - x0) / W, (y1 - y0) / H,
                             transform=fig.transFigure, fill=False,
                             edgecolor='#8a8a8a', linewidth=1.0))
    fig.text(((x0 + x1) / 2) / W, 1 - p['cap_y'] / H, p['cap'], ha='center', va='center',
             fontfamily='cmr10', fontsize=17.5, color='#111111')

fig.savefig('out.png', dpi=100, facecolor='white')
